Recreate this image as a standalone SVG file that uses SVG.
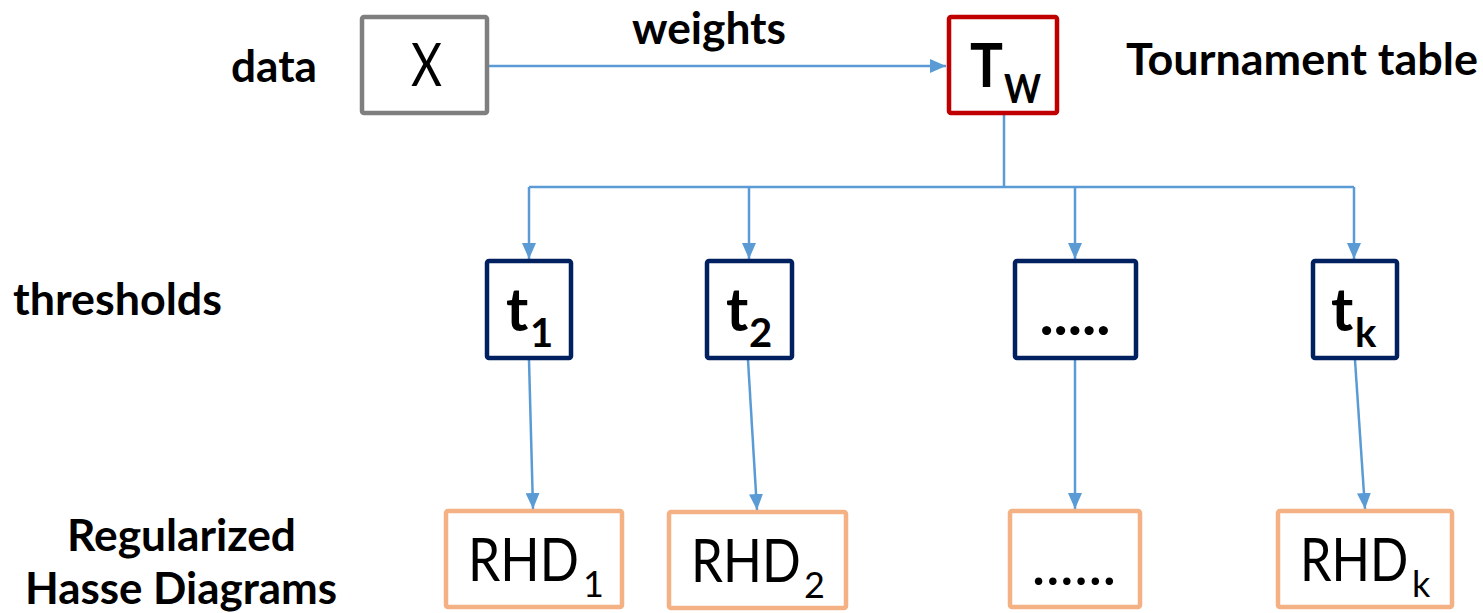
<svg xmlns="http://www.w3.org/2000/svg" width="1483" height="613" viewBox="0 0 1483 613">
  <style>
    text { font-family: Lato, "Open Sans", sans-serif; fill: #000; }
    .lbl { font-size: 44px; font-weight: 700; }
    .box { fill: #fff; stroke-width: 4.5; }
    .gray { stroke: #7F7F7F; }
    .red { stroke: #C00000; }
    .navy { stroke: #002060; }
    .orange { stroke: #F4B183; }
    .big { font-size: 60px; font-weight: 400; }
    .tmain { font-size: 60px; font-weight: 700; }
    .tsub { font-size: 40px; font-weight: 700; }
    .rsub { font-size: 36px; font-weight: 400; }
    .conn { stroke: #5B9BD5; stroke-width: 2.5; fill: none; }
  </style>
  <defs>
    <marker id="arrow" markerUnits="userSpaceOnUse" markerWidth="16" markerHeight="14" refX="16" refY="7" orient="auto">
      <path d="M0,0 L16,7 L0,14 Z" fill="#5B9BD5"/>
    </marker>
  </defs>

  <!-- row labels -->
  <g id="labels">
    <text class="lbl" x="231" y="82" textLength="86" lengthAdjust="spacingAndGlyphs">data</text>
    <text class="lbl" x="632" y="44" textLength="154" lengthAdjust="spacingAndGlyphs">weights</text>
    <text class="lbl" x="1126" y="75" textLength="352" lengthAdjust="spacingAndGlyphs">Tournament table</text>
    <text class="lbl" x="13" y="315" textLength="209" lengthAdjust="spacingAndGlyphs">thresholds</text>
    <text class="lbl" x="67" y="551" textLength="229" lengthAdjust="spacingAndGlyphs">Regularized</text>
    <text class="lbl" x="25" y="604" textLength="312" lengthAdjust="spacingAndGlyphs">Hasse Diagrams</text>
  </g>

  <!-- connectors -->
  <g id="connectors">
    <line class="conn" x1="489" y1="66" x2="946" y2="66" marker-end="url(#arrow)"/>
    <polyline class="conn" points="1004,115 1004,187"/>
    <polyline class="conn" points="529,187 1354,187"/>
    <line class="conn" x1="529" y1="187" x2="529" y2="259" marker-end="url(#arrow)"/>
    <line class="conn" x1="749" y1="187" x2="749" y2="259" marker-end="url(#arrow)"/>
    <line class="conn" x1="1075" y1="187" x2="1075" y2="259" marker-end="url(#arrow)"/>
    <line class="conn" x1="1354" y1="187" x2="1354" y2="259" marker-end="url(#arrow)"/>
    <line class="conn" x1="529" y1="360" x2="533" y2="509" marker-end="url(#arrow)"/>
    <line class="conn" x1="748" y1="360" x2="757" y2="510" marker-end="url(#arrow)"/>
    <line class="conn" x1="1075" y1="360" x2="1075" y2="509" marker-end="url(#arrow)"/>
    <line class="conn" x1="1355" y1="360" x2="1365" y2="509" marker-end="url(#arrow)"/>
  </g>

  <!-- data matrix -->
  <g id="node-x">
    <rect class="box gray" x="362" y="17" width="125" height="96" rx="2"/>
    <text class="big" x="411" y="86" textLength="31" lengthAdjust="spacingAndGlyphs">X</text>
  </g>

  <!-- tournament table -->
  <g id="node-tw">
    <rect class="box red" x="949" y="17" width="108" height="96" rx="2"/>
    <text class="tmain" x="970" y="87"><tspan font-size="62" textLength="33" lengthAdjust="spacingAndGlyphs">T</tspan><tspan class="tsub" x="1004" y="103" textLength="37" lengthAdjust="spacingAndGlyphs">W</tspan></text>
  </g>

  <!-- thresholds -->
  <g id="node-t1">
    <rect class="box navy" x="487" y="261" width="84" height="97" rx="2"/>
    <text class="tmain" x="506" y="331">t<tspan class="tsub" x="530" y="347">1</tspan></text>
  </g>
  <g id="node-t2">
    <rect class="box navy" x="707" y="261" width="85" height="97" rx="2"/>
    <text class="tmain" x="726" y="331">t<tspan class="tsub" x="749" y="347">2</tspan></text>
  </g>
  <g id="node-tdots">
    <rect class="box navy" x="1015" y="261" width="121" height="97" rx="2"/>
    <text class="tmain" x="1075" y="335" text-anchor="middle">.....</text>
  </g>
  <g id="node-tk">
    <rect class="box navy" x="1313" y="261" width="84" height="97" rx="2"/>
    <text class="tmain" x="1331" y="331">t<tspan class="tsub" x="1355" y="347">k</tspan></text>
  </g>

  <!-- regularized Hasse diagrams: main label narrowed horizontally, subscript beside it -->
  <g id="node-rhd1">
    <rect class="box orange" x="446" y="511" width="176" height="96" rx="2"/>
    <text class="big" transform="translate(468 581) scale(0.86 1)">RHD</text>
    <text class="rsub" x="583" y="597">1</text>
  </g>
  <g id="node-rhd2">
    <rect class="box orange" x="669" y="512" width="177" height="96" rx="2"/>
    <text class="big" transform="translate(691 582) scale(0.85 1)">RHD</text>
    <text class="rsub" x="804" y="598">2</text>
  </g>
  <g id="node-rhddots">
    <rect class="box orange" x="1010" y="511" width="130" height="96" rx="2"/>
    <text class="big" x="1074" y="585" text-anchor="middle">......</text>
  </g>
  <g id="node-rhdk">
    <rect class="box orange" x="1278" y="511" width="174" height="96" rx="2"/>
    <text class="big" transform="translate(1300 581) scale(0.84 1)">RHD</text>
    <text class="rsub" x="1412" y="597">k</text>
  </g>
</svg>
